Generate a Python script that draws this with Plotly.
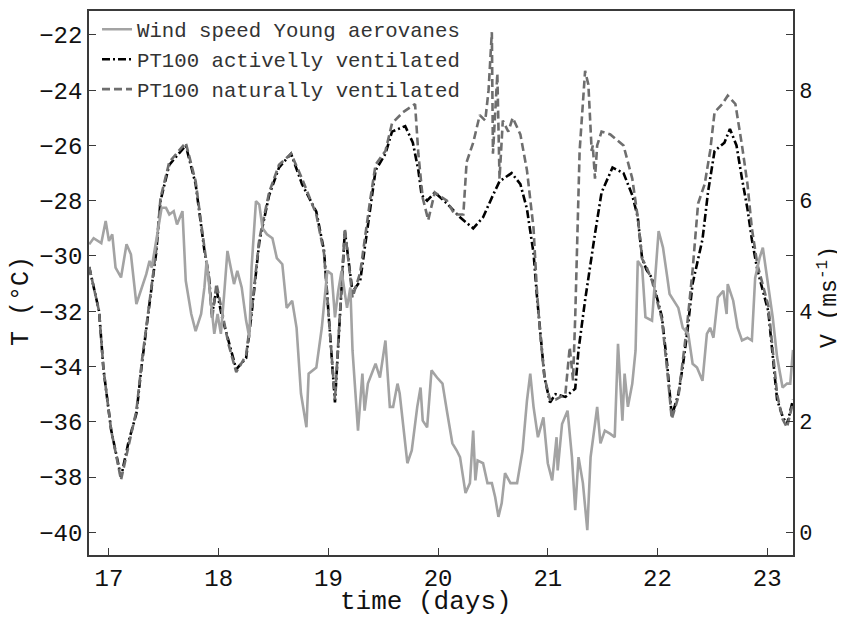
import plotly.graph_objects as go

# ---- data ----
active_days = [16.82, 16.91, 16.95, 17.02, 17.11, 17.18, 17.25, 17.30, 17.38, 17.43, 17.47, 17.55, 17.70,
               17.79, 17.87, 17.91, 17.94, 17.98, 18.03, 18.09, 18.16, 18.25, 18.30, 18.37, 18.46, 18.55,
               18.66, 18.76, 18.89, 18.96, 19.06, 19.15, 19.22, 19.29, 19.38, 19.43, 19.52, 19.58, 19.70,
               19.77, 19.82, 19.85, 19.90, 19.97, 20.08, 20.20, 20.32, 20.41, 20.50, 20.56, 20.67, 20.75,
               20.81, 20.87, 20.90, 20.93, 20.97, 21.02, 21.07, 21.16, 21.25, 21.28, 21.34, 21.43, 21.49,
               21.59, 21.69, 21.77, 21.82, 21.86, 21.90, 21.95, 22.04, 22.09, 22.13, 22.19, 22.23, 22.27,
               22.32, 22.41, 22.46, 22.52, 22.61, 22.66, 22.72, 22.77, 22.82, 22.86, 22.91, 23.01, 23.05,
               23.09, 23.14, 23.18, 23.235]
active_temp = [-30.4, -32.0, -34.1, -36.3, -38.0, -36.7, -35.7, -33.9, -31.4, -29.9, -28.0, -26.7, -26.0,
               -27.4, -29.8, -30.7, -32.1, -31.2, -32.2, -33.1, -34.1, -33.7, -32.1, -29.5, -27.8, -26.8,
               -26.3, -27.4, -28.4, -29.8, -35.3, -29.1, -31.3, -30.9, -28.3, -26.9, -26.3, -25.5, -25.3,
               -25.9, -26.9, -27.8, -28.0, -27.7, -28.1, -28.6, -29.0, -28.6, -27.8, -27.3, -27.0, -27.4,
               -28.3, -29.9, -31.4, -32.8, -34.4, -35.3, -35.0, -35.1, -34.8, -33.4, -31.6, -29.2, -27.7,
               -26.8, -27.0, -27.8, -28.6, -30.1, -30.5, -30.8, -32.2, -34.0, -35.8, -35.0, -34.0, -32.8,
               -31.0, -29.4, -27.7, -26.2, -25.9, -25.4, -26.0, -27.2, -28.3, -29.4, -30.5, -32.0, -33.7,
               -35.2, -35.8, -36.1, -35.2]

natural_days = [16.82, 16.91, 16.95, 17.02, 17.11, 17.18, 17.25, 17.30, 17.38, 17.43, 17.47, 17.55, 17.70,
                17.79, 17.87, 17.91, 17.94, 17.98, 18.03, 18.09, 18.16, 18.25, 18.30, 18.37, 18.46, 18.55,
                18.66, 18.76, 18.89, 18.96, 19.06, 19.15, 19.22, 19.29, 19.38, 19.43, 19.52, 19.58, 19.68,
                19.79, 19.82, 19.86, 19.91, 19.97, 20.08, 20.15, 20.23, 20.26, 20.32, 20.38, 20.43, 20.46,
                20.49, 20.50, 20.54, 20.56, 20.59, 20.64, 20.68, 20.75, 20.81, 20.87, 20.90, 20.93, 20.97,
                21.02, 21.07, 21.16, 21.20, 21.23, 21.25, 21.27, 21.29, 21.34, 21.37, 21.40, 21.41, 21.43,
                21.45, 21.49, 21.57, 21.63, 21.69, 21.77, 21.82, 21.86, 21.90, 21.95, 22.04, 22.09, 22.13,
                22.19, 22.23, 22.27, 22.32, 22.37, 22.43, 22.48, 22.52, 22.59, 22.64, 22.71, 22.77, 22.82,
                22.86, 22.91, 23.01, 23.05, 23.09, 23.14, 23.18, 23.235]
natural_temp = [-30.4, -32.0, -34.1, -36.3, -38.1, -36.8, -35.6, -33.8, -31.3, -29.8, -27.9, -26.6, -25.9,
                -27.3, -29.7, -30.8, -32.3, -31.0, -32.0, -33.2, -34.2, -33.6, -32.0, -29.4, -27.7, -26.7,
                -26.3, -27.2, -28.5, -29.9, -35.2, -29.0, -31.5, -30.6, -28.0, -26.7, -26.2, -25.2, -24.8,
                -24.5, -26.3, -27.9, -28.7, -27.7, -28.0, -28.5, -28.5, -26.6, -25.9, -24.9, -25.1, -24.0,
                -21.9, -26.3, -23.4, -27.2, -25.1, -25.5, -25.0, -25.6, -26.9, -29.0, -31.2, -32.8, -34.4,
                -35.2, -35.2, -35.0, -33.3, -34.5, -32.2, -29.5, -26.2, -23.3, -23.8, -26.2, -26.0, -27.2,
                -26.0, -25.5, -25.6, -25.8, -26.0, -27.2, -28.6, -30.1, -30.4, -30.9, -32.3, -34.2, -35.9,
                -35.1, -33.8, -32.5, -30.5, -28.1, -27.4, -26.2, -24.8, -24.5, -24.2, -24.5, -26.0, -27.4,
                -29.0, -30.3, -31.8, -33.5, -35.0, -35.9, -36.2, -35.3]

wind_days = [16.82, 16.86, 16.93, 16.97, 17.00, 17.03, 17.06, 17.11, 17.16, 17.20, 17.25, 17.29, 17.34,
             17.37, 17.39, 17.44, 17.48, 17.52, 17.55, 17.59, 17.62, 17.67, 17.70, 17.75, 17.79, 17.84,
             17.87, 17.89, 17.93, 17.96, 17.99, 18.02, 18.05, 18.08, 18.11, 18.14, 18.17, 18.21, 18.25,
             18.28, 18.30, 18.34, 18.37, 18.40, 18.44, 18.49, 18.53, 18.58, 18.62, 18.67, 18.71, 18.75,
             18.80, 18.82, 18.89, 18.94, 18.99, 19.03, 19.06, 19.09, 19.12, 19.17, 19.20, 19.22, 19.27,
             19.31, 19.33, 19.36, 19.43, 19.47, 19.52, 19.56, 19.59, 19.63, 19.65, 19.72, 19.76, 19.81,
             19.84, 19.86, 19.90, 19.94, 19.99, 20.04, 20.08, 20.13, 20.17, 20.20, 20.25, 20.29, 20.32,
             20.34, 20.36, 20.41, 20.45, 20.49, 20.52, 20.55, 20.58, 20.61, 20.66, 20.72, 20.77, 20.81,
             20.84, 20.87, 20.91, 20.96, 21.00, 21.04, 21.08, 21.09, 21.13, 21.18, 21.22, 21.25, 21.28,
             21.32, 21.36, 21.39, 21.43, 21.45, 21.48, 21.52, 21.57, 21.61, 21.64, 21.68, 21.70, 21.73,
             21.77, 21.80, 21.82, 21.86, 21.89, 21.95, 22.01, 22.05, 22.09, 22.11, 22.19, 22.23, 22.28,
             22.32, 22.36, 22.41, 22.45, 22.48, 22.51, 22.55, 22.60, 22.63, 22.64, 22.69, 22.73, 22.77,
             22.82, 22.86, 22.89, 22.93, 22.96, 23.00, 23.01, 23.05, 23.09, 23.14, 23.18, 23.21, 23.235]
wind_speed = [5.21, 5.32, 5.23, 5.63, 5.27, 5.39, 4.79, 4.61, 5.21, 5.03, 4.13, 4.37, 4.67,
              4.91, 4.79, 5.39, 5.87, 5.87, 5.75, 5.81, 5.57, 5.81, 4.55, 3.95, 3.64, 3.95,
              4.43, 4.91, 4.13, 3.59, 3.95, 3.59, 4.31, 5.09, 4.79, 4.49, 4.73, 4.43, 3.83,
              3.52, 4.79, 5.99, 5.93, 5.50, 5.39, 5.32, 4.96, 4.85, 4.06, 4.19, 3.70, 2.51,
              1.90, 2.87, 2.98, 3.70, 4.73, 4.67, 3.89, 4.37, 4.73, 4.06, 4.43, 3.29, 1.84,
              2.87, 2.20, 2.69, 3.05, 2.80, 3.47, 2.27, 2.27, 2.69, 2.51, 1.25, 1.48, 2.27,
              2.62, 2.02, 1.90, 2.93, 2.80, 2.69, 2.20, 1.61, 1.48, 1.36, 0.71, 0.89, 1.84,
              0.94, 1.30, 1.25, 0.89, 0.89, 0.64, 0.28, 0.53, 1.07, 0.89, 0.89, 1.48, 2.38,
              2.87, 2.27, 1.72, 2.08, 1.25, 0.94, 1.72, 1.12, 1.96, 2.20, 1.36, 0.40, 1.36,
              0.89, 0.04, 1.36, 1.96, 2.27, 1.61, 1.84, 1.78, 1.72, 3.41, 2.02, 2.87, 2.27,
              2.69, 3.29, 4.91, 4.79, 3.89, 3.83, 5.45, 5.15, 4.60, 4.31, 4.06, 3.70, 3.59,
              3.05, 2.98, 2.74, 3.59, 3.70, 3.52, 4.25, 4.37, 3.95, 4.49, 4.19, 3.70, 3.47,
              3.52, 3.47, 4.60, 4.96, 5.15, 4.60, 4.49, 3.89, 3.17, 2.62, 2.69, 2.69, 3.30]

x_ticks = [17, 18, 19, 20, 21, 22, 23]
t_ticks = [-40, -38, -36, -34, -32, -30, -28, -26, -24, -22]
v_ticks = [0, 1, 2, 3, 4, 5, 6, 7, 8, 9]
v_ticktext = ["0", "", "2", "", "4", "", "6", "", "8", ""]

x_title = "time (days)"
t_title = "T (°C)"
v_title = "V (ms<sup>-1</sup>)"

FONT = "Liberation Mono, Courier New, monospace"
AXC = "#3a3a3a"

fig = go.Figure()
fig.add_trace(go.Scatter(x=wind_days, y=wind_speed, mode="lines", name="Wind speed Young aerovanes",
                         line=dict(color="#a3a3a3", width=2.6), yaxis="y2"))
fig.add_trace(go.Scatter(x=active_days, y=active_temp, mode="lines", name="PT100 activelly ventilated",
                         line=dict(color="#000000", width=2.6, dash="8px,3px,2px,3px")))
fig.add_trace(go.Scatter(x=natural_days, y=natural_temp, mode="lines", name="PT100 naturally ventilated",
                         line=dict(color="#6e6e6e", width=2.6, dash="8px,4px")))

# page body has an 8px margin: the figure is sized/offset so the plot area lands where the reference has it
fig.update_layout(
    width=837, height=611,
    margin=dict(l=81, r=52, t=1, b=64),
    paper_bgcolor="white", plot_bgcolor="white",
    font=dict(family=FONT, color="#111111"),
    showlegend=True,
    legend=dict(x=0.0114, y=1.003, xanchor="left", yanchor="top", bgcolor="rgba(0,0,0,0)",
                font=dict(family=FONT, size=20.7, color="#333333"), tracegroupgap=0,
                itemwidth=30, borderwidth=0),
    xaxis=dict(range=[16.818, 23.235], tickvals=x_ticks, ticks="inside", ticklen=7, tickcolor=AXC,
               showline=True, linecolor=AXC, linewidth=1.5, mirror=True, showgrid=False, zeroline=False,
               tickfont=dict(size=24, family=FONT)),
    yaxis=dict(range=[-40.82, -21.135], tickvals=t_ticks, ticks="inside", ticklen=7, tickcolor=AXC,
               showline=True, linecolor=AXC, linewidth=1.5, showgrid=False, zeroline=False,
               tickfont=dict(size=24, family=FONT)),
    yaxis2=dict(range=[-0.41, 9.43], overlaying="y", side="right", tickvals=v_ticks, ticktext=v_ticktext,
                ticks="inside", ticklen=7, tickcolor=AXC, showline=True, linecolor=AXC, linewidth=1.5,
                showgrid=False, zeroline=False, tickfont=dict(size=22, family=FONT)),
    annotations=[
        dict(text=x_title, xref="paper", yref="paper", x=0.4787, y=-0.0866, xanchor="center",
             yanchor="middle", showarrow=False, font=dict(size=26, family=FONT, color="#111111")),
        dict(text=t_title, xref="paper", yref="paper", x=-0.0952, y=0.467, xanchor="center",
             yanchor="middle", textangle=-90, showarrow=False, font=dict(size=25, family=FONT, color="#111111")),
        dict(text=v_title, xref="paper", yref="paper", x=1.0511, y=0.474, xanchor="center",
             yanchor="middle", textangle=-90, showarrow=False, font=dict(size=23, family=FONT, color="#111111")),
    ],
)

fig.write_html("out.html")
